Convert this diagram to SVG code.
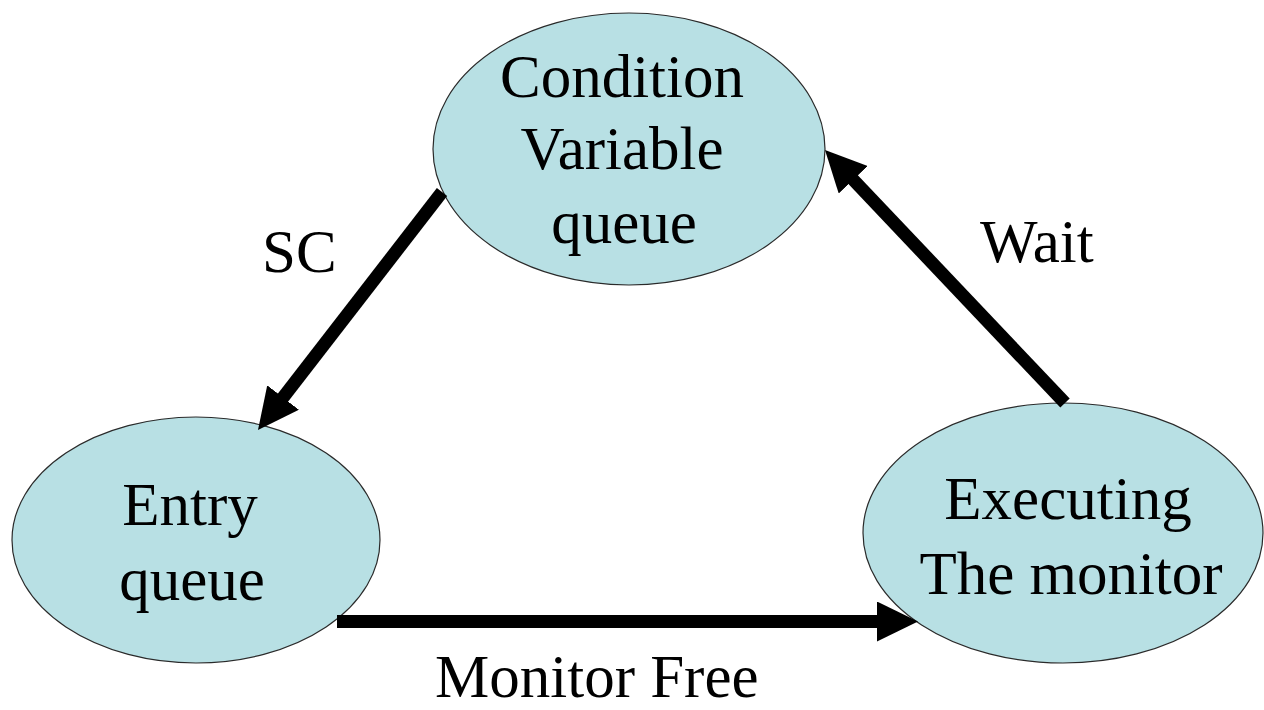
<svg xmlns="http://www.w3.org/2000/svg" width="1264" height="710" viewBox="0 0 1264 710">
<style>
.node ellipse{fill:#b8e0e4;stroke:#2a2a2a;stroke-width:1.2}
text{font-family:"Liberation Serif","Times New Roman",serif;font-size:61px;fill:#000}
.c{text-anchor:middle}
.edge{stroke:#000;stroke-width:13;fill:none;stroke-linecap:butt}
</style>
<defs>
<marker id="ah" markerUnits="userSpaceOnUse" markerWidth="42" markerHeight="40" refX="6" refY="20" orient="auto" viewBox="0 0 42 40">
<path d="M0,0 L41,20 L0,40 z" fill="#000"/>
</marker>
</defs>
<rect width="1264" height="710" fill="#fff"/>
<g id="cvq" class="node">
<ellipse cx="629" cy="149" rx="196" ry="136"/>
<text class="c" x="622" y="97">Condition</text>
<text class="c" x="622" y="169">Variable</text>
<text class="c" x="624" y="243">queue</text>
</g>
<g id="entry" class="node">
<ellipse cx="196" cy="540" rx="184" ry="123"/>
<text class="c" x="190" y="525">Entry</text>
<text class="c" x="192" y="600">queue</text>
</g>
<g id="exec" class="node">
<ellipse cx="1063" cy="533" rx="200" ry="130"/>
<text class="c" x="1068" y="519">Executing</text>
<text class="c" x="1071" y="594">The monitor</text>
</g>
<g id="connectors">
<line class="edge" x1="442" y1="192" x2="279.4" y2="402.3" marker-end="url(#ah)"/>
<line class="edge" x1="1065" y1="403" x2="849.1" y2="175.4" marker-end="url(#ah)"/>
<line class="edge" x1="337" y1="621.5" x2="883" y2="621.5" marker-end="url(#ah)"/>
<text x="262" y="272">SC</text>
<text x="980" y="262">Wait</text>
<text x="435" y="697">Monitor Free</text>
</g>
</svg>
